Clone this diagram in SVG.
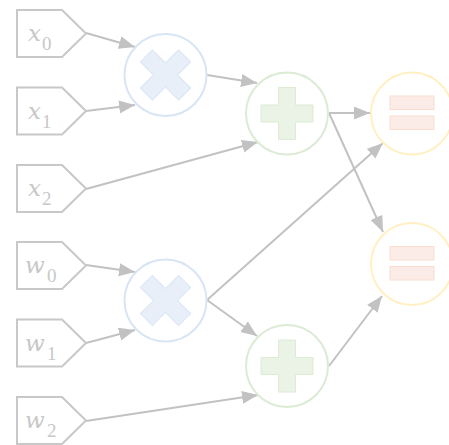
<svg xmlns="http://www.w3.org/2000/svg" width="449" height="445" viewBox="0 0 449 445">
  <style>
    .in { fill: #ffffff; stroke: #c8c8c8; stroke-width: 2; }
    .lbl { font-family: "DejaVu Serif", "Liberation Serif", serif; font-style: italic; font-size: 23px; fill: #c8c8c8; }
    .sub { font-family: "Liberation Serif", serif; font-style: normal; font-size: 19px; }
    .mul { fill: #ffffff; stroke: #d8e5f4; stroke-width: 2; }
    .mulg { fill: #e8eff9; stroke: #d9e5f5; stroke-width: 1; }
    .add { fill: #ffffff; stroke: #dcebd4; stroke-width: 2; }
    .addg { fill: #eaf3e6; stroke: #dcebd4; stroke-width: 1; }
    .eq { fill: #ffffff; stroke: #fff0c4; stroke-width: 2; }
    .eqg { fill: #fcece7; stroke: #fadccf; stroke-width: 1; }
    .edge { fill: none; stroke: #c2c2c2; stroke-width: 2; marker-end: url(#arrow); }
  </style>
  <defs>
    <marker id="arrow" markerUnits="userSpaceOnUse" markerWidth="17" markerHeight="14" refX="16" refY="6.5" orient="auto">
      <path d="M0,0 L16,6.5 L0,13 z" fill="#c2c2c2"/>
    </marker>
    <path id="inshape" d="M0,0 H45 L69,23.5 L45,47 H0 Z"/>
    <polygon id="cross" points="-8.5,-27 8.5,-27 8.5,-8.5 27,-8.5 27,8.5 8.5,8.5 8.5,27 -8.5,27 -8.5,8.5 -27,8.5 -27,-8.5 -8.5,-8.5" transform="rotate(45)"/>
    <polygon id="plus" points="-8.5,-26 8.5,-26 8.5,-8.5 26,-8.5 26,8.5 8.5,8.5 8.5,26 -8.5,26 -8.5,8.5 -26,8.5 -26,-8.5 -8.5,-8.5"/>
  </defs>

  <!-- connectors -->
  <g id="edges">
    <path class="edge" d="M86,33 L135,47"/>
    <path class="edge" d="M86,111 L135,105"/>
    <path class="edge" d="M86,189 L258,142"/>
    <path class="edge" d="M207,75 L257,83"/>
    <path class="edge" d="M329,113 L370,113"/>
    <path class="edge" d="M329,113 L383,232"/>
    <path class="edge" d="M207,300 L383,143"/>
    <path class="edge" d="M207,300 L257,336"/>
    <path class="edge" d="M329,366 L382,296"/>
    <path class="edge" d="M86,265 L135,272"/>
    <path class="edge" d="M86,343 L135,330"/>
    <path class="edge" d="M86,421 L258,395"/>
  </g>

  <!-- inputs -->
  <g id="x0" transform="translate(17,10)">
    <use href="#inshape" class="in"/>
    <text class="lbl" x="11" y="31">x<tspan class="sub" x="25" y="40">0</tspan></text>
  </g>
  <g id="x1" transform="translate(17,87.5)">
    <use href="#inshape" class="in"/>
    <text class="lbl" x="11" y="31">x<tspan class="sub" x="25" y="40">1</tspan></text>
  </g>
  <g id="x2" transform="translate(17,165)">
    <use href="#inshape" class="in"/>
    <text class="lbl" x="11" y="31">x<tspan class="sub" x="25" y="40">2</tspan></text>
  </g>
  <g id="w0" transform="translate(17,242)">
    <use href="#inshape" class="in"/>
    <text class="lbl" x="8" y="31">w<tspan class="sub" x="30" y="40">0</tspan></text>
  </g>
  <g id="w1" transform="translate(17,319.5)">
    <use href="#inshape" class="in"/>
    <text class="lbl" x="8" y="31">w<tspan class="sub" x="30" y="40">1</tspan></text>
  </g>
  <g id="w2" transform="translate(17,397)">
    <use href="#inshape" class="in"/>
    <text class="lbl" x="8" y="31">w<tspan class="sub" x="30" y="40">2</tspan></text>
  </g>

  <!-- multiply -->
  <g id="mul1" transform="translate(165.5,75)">
    <circle r="41" class="mul"/>
    <use href="#cross" class="mulg"/>
  </g>
  <g id="mul2" transform="translate(165.5,300.5)">
    <circle r="41" class="mul"/>
    <use href="#cross" class="mulg"/>
  </g>

  <!-- add -->
  <g id="add1" transform="translate(287,113.5)">
    <circle r="41" class="add"/>
    <use href="#plus" class="addg"/>
  </g>
  <g id="add2" transform="translate(287,366)">
    <circle r="41" class="add"/>
    <use href="#plus" class="addg"/>
  </g>

  <!-- equals -->
  <g id="eq1" transform="translate(412,113.5)">
    <circle r="41" class="eq"/>
    <rect x="-22" y="-17.5" width="44" height="13.5" class="eqg"/>
    <rect x="-22" y="2.5" width="44" height="13.5" class="eqg"/>
  </g>
  <g id="eq2" transform="translate(412,264)">
    <circle r="41" class="eq"/>
    <rect x="-22" y="-17.5" width="44" height="13.5" class="eqg"/>
    <rect x="-22" y="2.5" width="44" height="13.5" class="eqg"/>
  </g>
</svg>
